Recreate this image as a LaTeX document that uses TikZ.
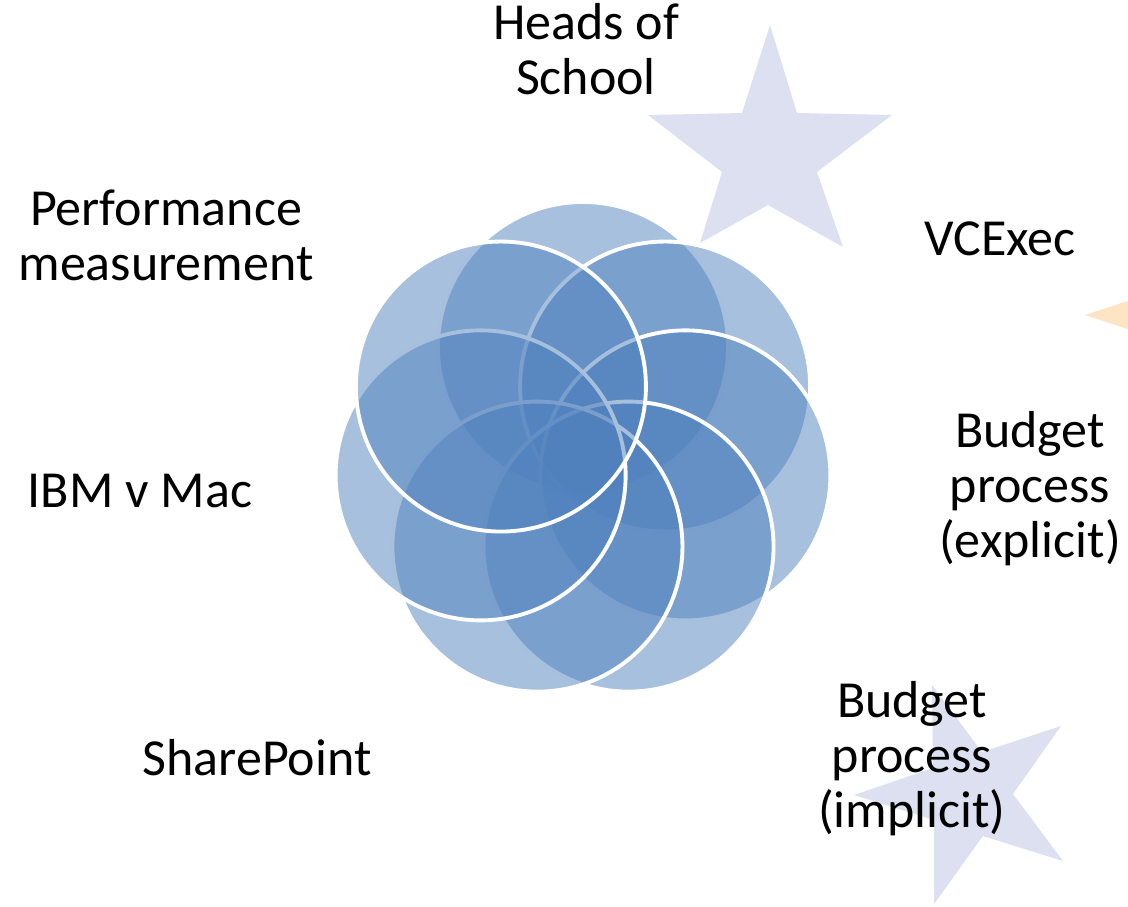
\documentclass[tikz,border=0pt]{standalone}
\usepackage{fontspec}
\setmainfont{Carlito}
\definecolor{petalblue}{RGB}{79,129,189}
\definecolor{lavender}{RGB}{221,224,240}
\definecolor{peach}{RGB}{253,229,196}

\begin{document}
\begin{tikzpicture}[x=0.02cm,y=-0.02cm]
\tikzstyle{every node}+=[inner sep=0pt]
\tikzstyle{petal}=[fill=petalblue,fill opacity=0.5,draw=white,line width=2.2pt]
\tikzstyle{txt}=[align=center,anchor=base,font=\fontsize{29.6}{31.3}\selectfont]
\useasboundingbox (0,0) rectangle (1128,906);
\clip (0,0) rectangle (1128,906);
\fill [lavender] (770,25) -- (797,113) -- (892,115) -- (817,172) -- (843,247) -- (768,205) -- (700,243) -- (722,172) -- (648,115) -- (742,113) -- cycle;
\fill [lavender] (1061,726) -- (982,752) -- (932,685) -- (933,768) -- (854,795) -- (934,820) -- (934,904) -- (983,836) -- (1063,861) -- (1013,794) -- cycle;
\fill [peach] (1085,315) -- (1164,289) -- (1164,206) -- (1200,315) -- (1164,424) -- (1164,341) -- cycle;
\coordinate (hub) at (583,452);
\foreach \a in {90,38.57,-12.86,-64.29,-115.71,-167.14,-218.57}
  \draw [petal] ([shift={(-\a:105)}]hub) circle (145);
\node [txt] (heads) at (586,94) {Heads of\\School};
\node [txt] (vcexec) at (1000,255) {VCExec};
\node [txt] (budgetexp) at (1030,557) {Budget\\process\\(explicit)};
\node [txt] (budgetimp) at (912,827) {Budget\\process\\(implicit)};
\node [txt] (sharepoint) at (257,775) {SharePoint};
\node [txt] (ibmmac) at (140,507) {IBM v Mac};
\node [txt] (perf) at (166,280) {Performance\\measurement};
\end{tikzpicture}
\end{document}
